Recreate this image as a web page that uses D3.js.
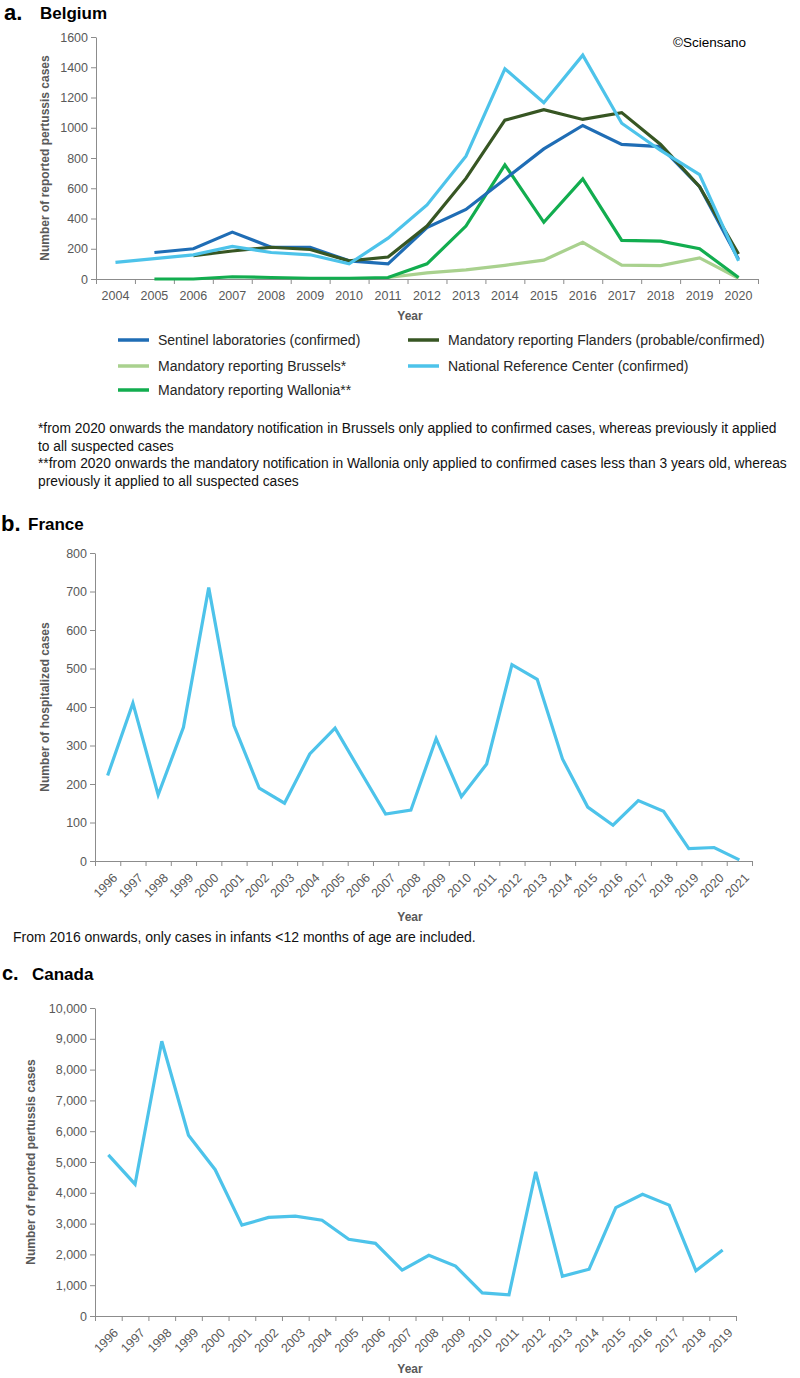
<!DOCTYPE html>
<html lang="en">
<head>
<meta charset="UTF-8">
<title>Pertussis cases: Belgium, France, Canada</title>
<script src="https://cdn.jsdelivr.net/npm/d3@7/dist/d3.min.js"></script>
<style>
  body { margin: 0; background: #fff; }
  svg { display: block; font-family: "Liberation Sans", Arial, sans-serif; }
  .tick text { fill: #595959; }
  .domain, .tick line { stroke: #8c8c8c; }
  .ytitle, .xtitle { fill: #595959; font-weight: bold; font-size: 12px; }
</style>
</head>
<body>
<script>
// ---- Belgium data ----
var beYears = d3.range(2004, 2021);
var beSentinel = [null, 175, 200, 310, 210, 210, 120, 100, 340, 460, 660, 860, 1015, 890, 875, 610, 130];
var beFlanders = [null, null, 155, 185, 210, 195, 120, 145, 350, 665, 1050, 1120, 1055, 1100, 890, 610, 165];
var beBrussels = [null, null, null, null, null, null, null, 10, 40, 60, 90, 125, 242, 92, 88, 140, 5];
var beNRC      = [110, 135, 160, 215, 175, 160, 100, 270, 490, 812, 1390, 1165, 1480, 1030, 850, 690, 120];
var beWallonia = [null, 0, 0, 15, 10, 5, 5, 10, 100, 350, 755, 375, 662, 255, 250, 200, 10];
var beTicks = [0, 200, 400, 600, 800, 1000, 1200, 1400, 1600];

// ---- France data ----
var frYears = d3.range(1996, 2022);
var frCases = [222, 410, 172, 347, 710, 352, 189, 150, 278, 345, 233, 122, 132, 318, 167, 252, 510, 472, 265, 140, 93, 157, 129, 32, 35, 3];
var frTicks = [0, 100, 200, 300, 400, 500, 600, 700, 800];

// ---- Canada data ----
var caYears = d3.range(1996, 2020);
var caCases = [5230, 4280, 8920, 5870, 4750, 2950, 3200, 3240, 3110, 2490, 2360, 1490, 1970, 1620, 750, 690, 4680, 1290, 1520, 3520, 3950, 3600, 1470, 2140];
var caTicks = d3.range(0, 10001, 1000);

var svg = d3.select("body").append("svg")
    .attr("width", 800)
    .attr("height", 1378);

function panel(cfg) {
  var g = svg.append("g");
  var n = cfg.years.length;
  var band = d3.scaleBand().domain(cfg.years).range([cfg.x0, cfg.x1]);
  var edge = d3.scaleLinear().domain([0, n]).range([cfg.x0, cfg.x1]);
  var y = d3.scaleLinear().domain([0, cfg.ymax]).range([cfg.yb, cfg.yt]);

  // y axis
  g.append("g")
    .attr("transform", "translate(" + cfg.x0 + ",0)")
    .call(d3.axisLeft(y).tickValues(cfg.ticks).tickSize(5).tickSizeOuter(0)
      .tickFormat(cfg.fmt))
    .call(function(a) { a.selectAll("text").style("font-size", "12.5px"); });

  // x axis ticks between categories
  g.append("g")
    .attr("transform", "translate(0," + cfg.yb + ")")
    .call(d3.axisBottom(edge).tickValues(d3.range(n + 1)).tickSize(5).tickFormat(""));

  // x labels
  var xl = g.append("g")
    .attr("transform", "translate(0," + cfg.yb + ")")
    .call(d3.axisBottom(band).tickSize(0).tickPadding(cfg.rot ? 8 : 12));
  xl.select(".domain").remove();
  xl.selectAll("text").style("font-size", "12.5px");
  if (cfg.rot) {
    xl.selectAll("text")
      .attr("text-anchor", "end")
      .attr("dy", "0")
      .attr("transform", "translate(5,12) rotate(-45)");
  }

  var line = d3.line()
    .defined(function(d) { return d != null; })
    .x(function(d, i) { return band(cfg.years[i]) + band.bandwidth() / 2; })
    .y(function(d) { return y(d); });

  cfg.series.forEach(function(s) {
    g.append("path")
      .datum(s.values)
      .attr("fill", "none")
      .attr("stroke", s.color)
      .attr("stroke-width", 3.2)
      .attr("stroke-linejoin", "miter")
      .attr("d", line);
  });

  g.append("text").attr("class", "ytitle")
    .attr("transform", "translate(" + cfg.ytx + "," + ((cfg.yt + cfg.yb) / 2) + ") rotate(-90)")
    .attr("text-anchor", "middle")
    .text(cfg.ytitle);

  g.append("text").attr("class", "xtitle")
    .attr("x", 410).attr("y", cfg.xty)
    .attr("text-anchor", "middle")
    .text("Year");
  return g;
}

var cDarkBlue = "#1f6db5", cDarkGreen = "#375623", cLightGreen = "#a9d18e",
    cLightBlue = "#4dc3ea", cGreen = "#12ad4f";

// ---------- a. Belgium ----------
svg.append("text").attr("x", 4).attr("y", 20)
  .style("font-size", "22px").style("font-weight", "bold").text("a.");
svg.append("text").attr("x", 40).attr("y", 19)
  .style("font-size", "17px").style("font-weight", "bold").text("Belgium");
svg.append("text").attr("x", 673).attr("y", 47)
  .style("font-size", "13.5px").text("©Sciensano");

panel({
  years: beYears, x0: 96, x1: 758, yt: 37, yb: 279, ymax: 1600, ticks: beTicks,
  fmt: d3.format("d"), rot: false, ytx: 49, xty: 320,
  ytitle: "Number of reported pertussis cases",
  series: [
    { values: beBrussels, color: cLightGreen },
    { values: beWallonia, color: cGreen },
    { values: beSentinel, color: cDarkBlue },
    { values: beFlanders, color: cDarkGreen },
    { values: beNRC, color: cLightBlue }
  ]
});

var legend = [
  { label: "Sentinel laboratories (confirmed)", color: cDarkBlue, x: 118, y: 340 },
  { label: "Mandatory reporting Flanders (probable/confirmed)", color: cDarkGreen, x: 408, y: 340 },
  { label: "Mandatory reporting Brussels*", color: cLightGreen, x: 118, y: 366 },
  { label: "National Reference Center (confirmed)", color: cLightBlue, x: 408, y: 366 },
  { label: "Mandatory reporting Wallonia**", color: cGreen, x: 118, y: 390 }
];
var lg = svg.append("g").selectAll("g").data(legend).enter().append("g")
  .attr("transform", function(d) { return "translate(" + d.x + "," + d.y + ")"; });
lg.append("line").attr("x1", 0).attr("x2", 31)
  .attr("stroke", function(d) { return d.color; }).attr("stroke-width", 3.5);
lg.append("text").attr("x", 40).attr("y", 5)
  .style("font-size", "14px").style("fill", "#262626")
  .text(function(d) { return d.label; });

var notes = [
  "*from 2020 onwards the mandatory notification in Brussels only applied to confirmed cases, whereas previously it applied",
  "to all suspected cases",
  "**from 2020 onwards the mandatory notification in Wallonia only applied to confirmed cases less than 3 years old, whereas",
  "previously it applied to all suspected cases"
];
svg.append("g").selectAll("text").data(notes).enter().append("text")
  .attr("x", 38).attr("y", function(d, i) { return 433 + i * 17.5; })
  .style("font-size", "13.8px").style("fill", "#111")
  .text(function(d) { return d; });

// ---------- b. France ----------
svg.append("text").attr("x", 1).attr("y", 531)
  .style("font-size", "22px").style("font-weight", "bold").text("b.");
svg.append("text").attr("x", 28).attr("y", 530)
  .style("font-size", "17px").style("font-weight", "bold").text("France");

panel({
  years: frYears, x0: 95, x1: 752, yt: 553, yb: 861, ymax: 800, ticks: frTicks,
  fmt: d3.format("d"), rot: true, ytx: 49, xty: 921,
  ytitle: "Number of hospitalized cases",
  series: [{ values: frCases, color: cLightBlue }]
});

svg.append("text").attr("x", 13).attr("y", 942)
  .style("font-size", "14px").style("fill", "#111")
  .text("From 2016 onwards, only cases in infants <12 months of age are included.");

// ---------- c. Canada ----------
svg.append("text").attr("x", 2).attr("y", 980)
  .style("font-size", "20px").style("font-weight", "bold").text("c.");
svg.append("text").attr("x", 32).attr("y", 980)
  .style("font-size", "17px").style("font-weight", "bold").text("Canada");

panel({
  years: caYears, x0: 95, x1: 736, yt: 1008, yb: 1316, ymax: 10000, ticks: caTicks,
  fmt: d3.format(","), rot: true, ytx: 35, xty: 1373,
  ytitle: "Number of reported pertussis cases",
  series: [{ values: caCases, color: cLightBlue }]
});
</script>
</body>
</html>
